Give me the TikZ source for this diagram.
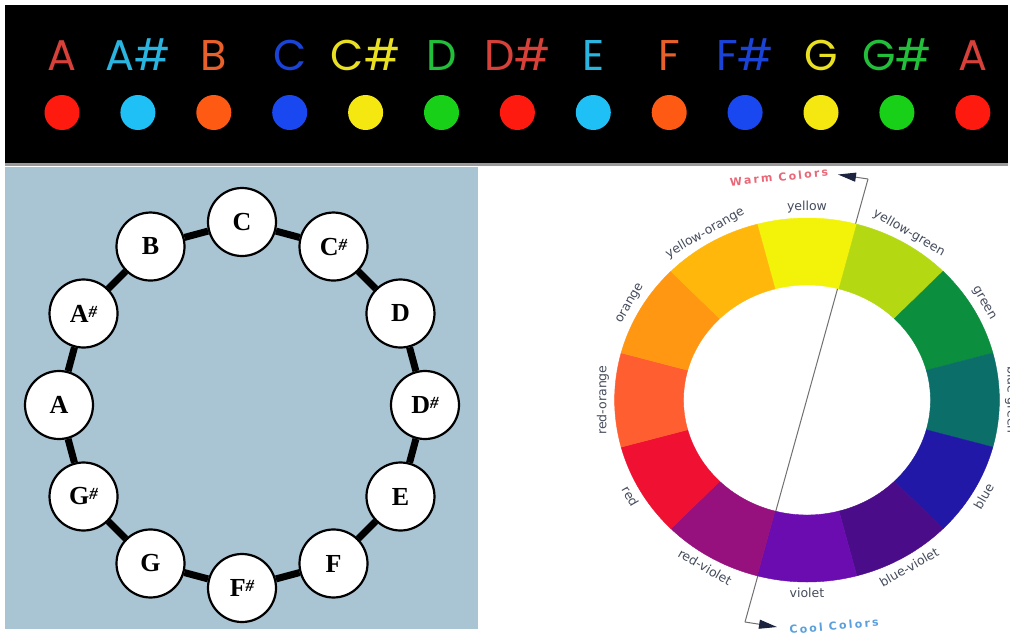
\documentclass[tikz,border=0pt]{standalone}
\usepackage{fontspec}
\setmainfont{Liberation Serif}
\newfontfamily\notefont{Poppins}
\newfontfamily\wheelfont{DejaVu Sans}
\newfontfamily\spacedfont[LetterSpace=20]{DejaVu Sans}
\usetikzlibrary{arrows.meta}

% note colours (text / dot)
\definecolor{tred}{HTML}{D8403A}\definecolor{dred}{HTML}{FF1A10}
\definecolor{tcyan}{HTML}{2AB4E0}\definecolor{dcyan}{HTML}{1EC0F5}
\definecolor{torange}{HTML}{E8602A}\definecolor{dorange}{HTML}{FF5A14}
\definecolor{tblue}{HTML}{1A44D8}\definecolor{dblue}{HTML}{1A48F0}
\definecolor{tyellow}{HTML}{E8E020}\definecolor{dyellow}{HTML}{F5E810}
\definecolor{tgreen}{HTML}{22C03A}\definecolor{dgreen}{HTML}{18D018}
% panels
\definecolor{panelblue}{HTML}{A9C4D3}
\definecolor{barline}{HTML}{9A9A9A}
% colour wheel
\definecolor{wyellow}{HTML}{F3F30A}
\definecolor{wyg}{HTML}{B4D812}
\definecolor{wgreen}{HTML}{0B8F3E}
\definecolor{wbg}{HTML}{0B6E68}
\definecolor{wblue}{HTML}{2218A8}
\definecolor{wbv}{HTML}{4B0C8A}
\definecolor{wviolet}{HTML}{6A0CB0}
\definecolor{wrv}{HTML}{96107E}
\definecolor{wred}{HTML}{EF1032}
\definecolor{wro}{HTML}{FF5F30}
\definecolor{worange}{HTML}{FF9712}
\definecolor{wyo}{HTML}{FFB70C}
\definecolor{wlabel}{HTML}{454C5C}
\definecolor{warmpink}{HTML}{E86878}
\definecolor{coolblue}{HTML}{5AA0DC}
\definecolor{guidegray}{HTML}{707070}
\definecolor{arrownavy}{HTML}{1C2440}

\newcommand{\notesharp}{\raisebox{5pt}{\fontsize{17}{17}\selectfont\itshape\#}}

\tikzset{
  notelabel/.style={anchor=base, inner sep=0pt, font=\notefont\fontsize{43}{43}\selectfont},
  notedot/.style={circle, inner sep=0pt, minimum size=35pt},
  notenode/.style={circle, draw=black, line width=2.2pt, fill=white, minimum size=68pt,
    inner sep=0pt, font=\fontsize{26}{26}\selectfont\bfseries},
  ringlink/.style={line width=7pt, black},
  wheellabel/.style={inner sep=0pt, text=wlabel, font=\wheelfont\fontsize{12.5}{12.5}\selectfont},
  guide/.style={guidegray, line width=1pt},
  guidetip/.style={-{Triangle[length=18pt,width=9pt,color=arrownavy]}},
  huelabel/.style={inner sep=0pt, font=\spacedfont\bfseries\fontsize{11}{11}\selectfont}
}

\begin{document}
\begin{tikzpicture}[x=1pt,y=-1pt]
\useasboundingbox (0,0) rectangle (1010,638);
\fill[white] (0,0) rectangle (1010,638);

% ---- black strip with note names and colour dots ----
\fill[black] (5,5) rectangle (1008,163);
\fill[barline] (5,163) rectangle (1008,166);
\foreach \txt/\tc/\dc [count=\i from 0] in {
  A/tred/dred, A\#/tcyan/dcyan, B/torange/dorange, C/tblue/dblue,
  C\#/tyellow/dyellow, D/tgreen/dgreen, D\#/tred/dred, E/tcyan/dcyan,
  F/torange/dorange, F\#/tblue/dblue, G/tyellow/dyellow, G\#/tgreen/dgreen,
  A/tred/dred}{
  \node[notelabel, text=\tc] (t\i) at ({62+75.9*\i},70) {\txt};
  \node[notedot, fill=\dc] (d\i) at ({62+75.9*\i},112.5) {};
}

% ---- chromatic circle of notes ----
\fill[panelblue] (5,167) rectangle (478,629);
\begin{scope}[shift={(242,405)}, y=1pt]
  \foreach \nm/\lab [count=\i from 0] in {C/C, Cs/C\notesharp, D/D, Ds/D\notesharp,
      E/E, F/F, Fs/F\notesharp, G/G, Gs/G\notesharp, A/A, As/A\notesharp, B/B}
    \node[notenode] (\nm) at ({90-30*\i}:183) {\lab};
\end{scope}
\foreach \a/\b in {C/Cs, Cs/D, D/Ds, Ds/E, E/F, F/Fs, Fs/G, G/Gs, Gs/A, A/As, As/B, B/C}
  \draw[ringlink] (\a) -- (\b);

% ---- warm / cool guide line (behind the wheel) ----
\coordinate (warmcorner) at (868,179);
\coordinate (warmtip) at (838,174.5);
\coordinate (coolcorner) at (745,622);
\coordinate (cooltip) at (777,627);
\draw[guide] (coolcorner) -- (warmcorner);
\draw[guide, guidetip] (warmcorner) -- (warmtip);
\draw[guide, guidetip] (coolcorner) -- (cooltip);
\node[huelabel, text=warmpink, rotate=6] (warm) at (779,177) {Warm Colors};
\node[huelabel, text=coolblue, rotate=5] (cool) at (834,626) {Cool Colors};

% ---- colour wheel ----
\begin{scope}[shift={(807,400)}, y=1pt]
  \foreach \ang/\col/\rot/\lab in {90/wyellow/0/yellow, 60/wyg/-30/yellow-green,
      30/wgreen/-60/green, 0/wbg/-90/blue-green, -30/wblue/60/blue,
      -60/wbv/30/blue-violet, -90/wviolet/0/violet, -120/wrv/-30/red-violet,
      -150/wred/-60/red, 180/wro/90/red-orange, 150/worange/60/orange,
      120/wyo/30/yellow-orange}{
    \filldraw[fill=\col, draw=\col, line width=0.4pt]
      ({\ang-15}:192.4pt and 182pt)
      arc[start angle=\ang-15, end angle=\ang+15, x radius=192.4pt, y radius=182pt]
      -- ({\ang+15}:123.5pt and 115pt)
      arc[start angle=\ang+15, end angle=\ang-15, x radius=123.5pt, y radius=115pt]
      -- cycle;
    \node[wheellabel, rotate=\rot] (lab\lab) at (\ang:204pt and 193pt) {\lab};
  }
\end{scope}
\end{tikzpicture}
\end{document}
